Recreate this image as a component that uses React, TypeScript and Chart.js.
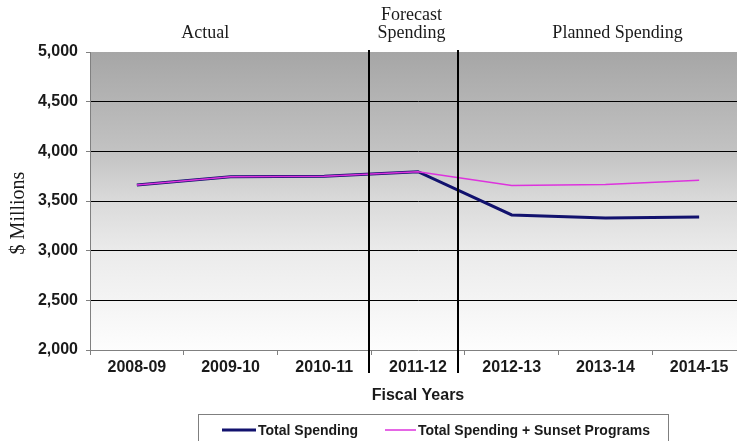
import React, { useEffect, useRef } from 'react';
import { Chart, registerables } from 'chart.js';

Chart.register(...registerables);

const categories = ['2008-09', '2009-10', '2010-11', '2011-12', '2012-13', '2013-14', '2014-15'];
const totalSpending = [3660, 3745, 3750, 3795, 3360, 3328, 3338];
const totalPlusSunset = [3660, 3745, 3750, 3795, 3655, 3665, 3710];
const seriesNames = ['Total Spending', 'Total Spending + Sunset Programs'];
const yMin = 2000;
const yMax = 5000;
const yStep = 500;
const periodLabels = [['Actual'], ['Forecast', 'Spending'], ['Planned Spending']];
const periodLabelAt = [0.73, 2.93, 5.13];
const periodDividersAt = [2.48, 3.43];
const xTitle = 'Fiscal Years';
const yTitle = '$ Millions';

const NAVY = '#12126e';
const MAGENTA = '#dd33dd';
const SANS = '"Liberation Sans", Arial, sans-serif';
const SERIF = '"Liberation Serif", "Times New Roman", serif';

const decorPlugin = {
  id: 'decor',
  beforeDraw(chart: any) {
    const { ctx, chartArea } = chart;
    const { left, top, right, bottom } = chartArea;
    const g = ctx.createLinearGradient(0, top, 0, bottom);
    g.addColorStop(0, '#a6a6a6');
    g.addColorStop(0.33, '#c2c2c2');
    g.addColorStop(0.5, '#dadada');
    g.addColorStop(0.67, '#ebebeb');
    g.addColorStop(1, '#fdfdfd');
    ctx.save();
    ctx.fillStyle = g;
    ctx.fillRect(left, top, right - left, bottom - top);
    ctx.restore();
  },
  afterDatasetsDraw(chart: any) {
    const { ctx, chartArea, scales } = chart;
    const x = scales.x;
    ctx.save();
    ctx.strokeStyle = '#000';
    ctx.lineWidth = 2;
    periodDividersAt.forEach((v) => {
      const px = Math.round(x.getPixelForValue(v));
      ctx.beginPath();
      ctx.moveTo(px, chartArea.top - 2);
      ctx.lineTo(px, chartArea.bottom + 23);
      ctx.stroke();
    });
    ctx.restore();
  },
  afterDraw(chart: any) {
    const { ctx, scales } = chart;
    const x = scales.x;
    ctx.save();
    // period headers
    ctx.fillStyle = '#1a1a1a';
    ctx.font = `18px ${SERIF}`;
    ctx.textAlign = 'center';
    ctx.textBaseline = 'alphabetic';
    periodLabels.forEach((lines, i) => {
      const px = x.getPixelForValue(periodLabelAt[i]);
      const base = 38 - (lines.length - 1) * 18;
      lines.forEach((t, j) => ctx.fillText(t, px, base + j * 18));
    });
    // y title
    ctx.save();
    ctx.translate(18.5, 213);
    ctx.rotate(-Math.PI / 2);
    ctx.font = `20px ${SERIF}`;
    ctx.textBaseline = 'middle';
    ctx.fillText(yTitle, 0, 0);
    ctx.restore();
    // legend
    ctx.fillStyle = '#ffffff';
    ctx.fillRect(198, 414, 470, 40);
    ctx.strokeStyle = '#7f7f7f';
    ctx.lineWidth = 1;
    ctx.strokeRect(198.5, 414.5, 470, 40);
    const items = [
      { color: NAVY, width: 3, x0: 222, x1: 256, tx: 258 },
      { color: MAGENTA, width: 1.5, x0: 385, x1: 416, tx: 418 },
    ];
    ctx.font = `bold 14px ${SANS}`;
    ctx.textAlign = 'left';
    ctx.textBaseline = 'middle';
    items.forEach((it, i) => {
      ctx.strokeStyle = it.color;
      ctx.lineWidth = it.width;
      ctx.beginPath();
      ctx.moveTo(it.x0, 430);
      ctx.lineTo(it.x1, 430);
      ctx.stroke();
      ctx.fillStyle = '#1a1a1a';
      ctx.fillText(seriesNames[i], it.tx, 431);
    });
    ctx.restore();
  },
};

export default function App() {
  const canvasRef = useRef<HTMLCanvasElement | null>(null);

  useEffect(() => {
    const canvas = canvasRef.current;
    if (!canvas) return;
    const chart = new Chart(canvas, {
      type: 'line',
      data: {
        labels: categories,
        datasets: [
          {
            label: seriesNames[1],
            data: totalPlusSunset,
            borderColor: MAGENTA,
            backgroundColor: MAGENTA,
            borderWidth: 1.5,
            pointRadius: 0,
            tension: 0,
            order: 0,
          },
          {
            label: seriesNames[0],
            data: totalSpending,
            borderColor: NAVY,
            backgroundColor: NAVY,
            borderWidth: 3,
            pointRadius: 0,
            tension: 0,
            order: 1,
          },
        ],
      },
      options: {
        responsive: false,
        animation: false,
        devicePixelRatio: 1,
        layout: { padding: { top: 52, right: 14, left: 0, bottom: 0 } },
        plugins: {
          legend: { display: false },
          tooltip: { enabled: false },
        },
        scales: {
          x: {
            type: 'category',
            offset: true,
            afterFit: (s: any) => {
              s.height = 91;
            },
            grid: {
              drawOnChartArea: false,
              offset: true,
              tickLength: 5,
              color: '#808080',
              tickColor: '#808080',
            },
            border: { color: '#808080', width: 1 },
            ticks: {
              font: { family: SANS, size: 16, weight: 'bold' },
              color: '#1a1a1a',
              padding: 3,
              maxRotation: 0,
              autoSkip: false,
            },
            title: {
              display: true,
              text: xTitle,
              font: { family: SANS, size: 16, weight: 'bold' },
              color: '#1a1a1a',
              padding: { top: 0, bottom: 36 },
            },
          },
          y: {
            min: yMin,
            max: yMax,
            afterFit: (s: any) => {
              s.width = 90;
            },
            grid: {
              color: (c: any) =>
                c.tick && (c.tick.value === yMax || c.tick.value === yMin) ? 'rgba(0,0,0,0)' : '#000000',
              tickColor: '#808080',
              tickLength: 4,
              lineWidth: 1,
            },
            border: { color: '#808080', width: 1 },
            ticks: {
              stepSize: yStep,
              font: { family: SANS, size: 16, weight: 'bold' },
              color: '#1a1a1a',
              padding: 8,
              callback: (v: any) => Number(v).toLocaleString('en-US'),
            },
          },
        },
      },
      plugins: [decorPlugin],
    });
    return () => chart.destroy();
  }, []);

  return (
    <div
      style={{
        position: 'absolute',
        left: 0,
        top: 0,
        width: 737,
        height: 441,
        overflow: 'hidden',
        background: '#ffffff',
      }}
    >
      <canvas ref={canvasRef} width={760} height={441} style={{ display: 'block', width: 760, height: 441 }} />
    </div>
  );
}
